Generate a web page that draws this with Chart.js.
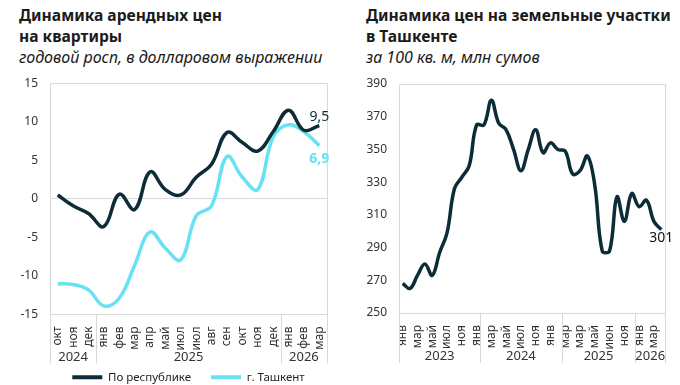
<!DOCTYPE html>
<html>
<head>
<meta charset="utf-8">
<script src="https://cdn.jsdelivr.net/npm/chart.js@4/dist/chart.umd.min.js"></script>
<style>
  body { margin: 0; width: 680px; height: 385px; background: #fff; position: relative; overflow: hidden; font-family: "Noto Sans", sans-serif; }
  .ttl { position: absolute; top: 5px; color: #1b1b1b; font-size: 16px; line-height: 21px; white-space: nowrap; }
  .ttl b { font-weight: 700; font-size: 15.6px; }
  .ttl i { font-style: italic; }
  .box { position: absolute; top: 64px; width: 340px; }
</style>
</head>
<body>
<div class="ttl" style="left:19px"><b>Динамика арендных цен<br>на квартиры</b><br><i>годовой росп, в долларовом выражении</i></div>
<div class="ttl" style="left:366px"><b>Динамика цен на земельные участки<br>в Ташкенте</b><br><i>за 100 кв. м, млн сумов</i></div>
<div class="box" style="left:0;height:329px"><canvas id="rent-chart"></canvas></div>
<div class="box" style="left:340px;height:320px"><canvas id="land-chart"></canvas></div>
<script>
// rent: year-on-year growth, %
const rentMonths = ['окт', 'ноя', 'дек', 'янв', 'фев', 'мар', 'апр', 'май', 'июл', 'июл', 'авг', 'сен', 'окт', 'ноя', 'дек', 'янв', 'фев', 'мар'];
const rentYears = ['2024', '2025', '2026'];
const rentYearStart = [0, 3, 15];
const rentRepublic = [0.5, -0.9, -1.9, -3.6, 0.6, -1.4, 3.5, 1.2, 0.5, 2.8, 4.5, 8.6, 7.3, 6.2, 8.7, 11.5, 8.9, 9.5];
const rentTashkent = [-11.0, -11.1, -11.8, -13.9, -12.9, -8.6, -4.3, -6.4, -7.9, -2.2, -0.9, 5.5, 2.8, 1.2, 8.0, 9.6, 8.7, 6.9];

// land: mln sum per 100 sq m
const landMonths = ['янв', '', 'мар', '', 'май', '', 'июл', '', 'ноя', '', 'янв', '', 'мар', '', 'май', '', 'июл', '', 'ноя', '', 'янв', '', 'мар', '', 'мар', '', 'май', '', 'июн', '', 'ноя', '', 'янв', '', 'мар', ''];
const landYears = ['2023', '2024', '2025', '2026'];
const landYearStart = [0, 11, 22, 32];
const landPrice = [268, 265, 273, 280, 273, 287, 299, 326, 333, 340, 365, 365, 380, 366, 362, 350, 337, 350, 362, 348, 354, 350, 349, 335, 337, 346, 328, 288, 288, 321, 306, 323, 315, 319, 306, 301];

const dark = '#0c2c37';
const cyan = '#66e2f4';
const gridGray = '#d9d9d9';
const font = '"Noto Sans", sans-serif';

// frame, group dividers and year row under the x axis
const yearGroups = {
    id: 'yearGroups',
    beforeDatasetsDraw(chart, args, opts) {
        const {ctx, chartArea: a} = chart;
        const x = chart.scales.x;
        const n = chart.data.labels.length;
        const step = x.getPixelForValue(1) - x.getPixelForValue(0);
        const low = a.bottom + opts.depth;
        const L = Math.round(a.left) + 0.5, R = Math.round(a.right) + 0.5, T = Math.round(a.top) + 0.5;
        ctx.save();
        ctx.strokeStyle = gridGray;
        ctx.lineWidth = 1;
        ctx.beginPath();
        ctx.moveTo(L, T); ctx.lineTo(R, T);
        ctx.moveTo(L, T); ctx.lineTo(L, low);
        ctx.moveTo(R, T); ctx.lineTo(R, low);
        opts.starts.forEach((s, i) => {
            if (i === 0) return;
            const px = Math.round(x.getPixelForValue(s) - step / 2) + 0.5;
            ctx.moveTo(px, a.bottom); ctx.lineTo(px, low);
        });
        ctx.stroke();
        ctx.fillStyle = '#333';
        ctx.font = '13px ' + font;
        ctx.textAlign = 'center';
        ctx.textBaseline = 'middle';
        opts.years.forEach((y, i) => {
            const s = opts.starts[i];
            const e = (i + 1 < opts.starts.length ? opts.starts[i + 1] : n) - 1;
            const l = x.getPixelForValue(s) - step / 2;
            const r = x.getPixelForValue(e) + step / 2;
            ctx.fillText(y, (l + r) / 2, a.bottom + opts.yearY);
        });
        ctx.restore();
    }
};

// value label at the last point of a series
const endLabels = {
    id: 'endLabels',
    afterDatasetsDraw(chart, args, opts) {
        const ctx = chart.ctx;
        ctx.save();
        ctx.textAlign = 'center';
        ctx.textBaseline = 'middle';
        opts.items.forEach(it => {
            const ds = chart.data.datasets[it.ds];
            const pts = chart.getDatasetMeta(it.ds).data;
            const p = pts[pts.length - 1];
            const v = ds.data[ds.data.length - 1];
            ctx.fillStyle = it.color;
            ctx.font = (it.bold ? '700 ' : '') + '14px ' + font;
            ctx.fillText(String(v).replace('.', ','), p.x + it.dx, p.y + it.dy);
        });
        ctx.restore();
    }
};

function xScale(h) {
    return {
        offset: true,
        grid: {display: false},
        border: {display: true, color: gridGray},
        ticks: {autoSkip: false, minRotation: 90, maxRotation: 90, padding: 4, color: '#333', font: {family: font, size: 12}},
        afterFit: s => { s.height = h; }
    };
}

function yScale(min, max, step, zeroLine, width, pad) {
    return {
        min: min, max: max,
        border: {display: false},
        grid: {drawTicks: false, color: c => (zeroLine && c.tick.value === 0) ? gridGray : 'transparent'},
        ticks: {stepSize: step, padding: pad, color: '#333', font: {family: font, size: 12}},
        afterFit: s => { s.width = width; }
    };
}

const rentConfig = {
    type: 'line',
    data: {
        labels: rentMonths,
        datasets: [{
            label: 'По республике',
            data: rentRepublic,
            borderColor: dark,
            backgroundColor: dark,
            borderWidth: 3.5,
            pointRadius: 0,
            tension: 0.4
        }, {
            label: 'г. Ташкент',
            data: rentTashkent,
            borderColor: cyan,
            backgroundColor: cyan,
            borderWidth: 3.5,
            pointRadius: 0,
            tension: 0.4
        }]
    },
    options: {
        responsive: true,
        maintainAspectRatio: false,
        animation: false,
        layout: {padding: {top: 19, right: 13, left: 0, bottom: 0}},
        scales: {
            x: xScale(37),
            y: yScale(-15, 15, 5, true, 50, 12)
        },
        plugins: {
            legend: {
                position: 'bottom',
                fullSize: false,
                labels: {
                    boxWidth: 30, boxHeight: 4, padding: 20, color: '#222',
                    font: {family: font, size: 11.5},
                    generateLabels: chart => Chart.defaults.plugins.legend.labels.generateLabels(chart).map(l => ({...l, lineWidth: 0}))
                }
            },
            tooltip: {enabled: false},
            yearGroups: {years: rentYears, starts: rentYearStart, depth: 49, yearY: 43},
            endLabels: {items: [
                {ds: 0, color: dark, bold: false, dx: 0, dy: -9},
                {ds: 1, color: cyan, bold: true, dx: 0, dy: 13}
            ]}
        }
    },
    plugins: [yearGroups, endLabels]
};

const landConfig = {
    type: 'line',
    data: {
        labels: landMonths,
        datasets: [{
            label: 'Цена',
            data: landPrice,
            borderColor: dark,
            backgroundColor: dark,
            borderWidth: 3.5,
            pointRadius: 0,
            tension: 0.4
        }]
    },
    options: {
        responsive: true,
        maintainAspectRatio: false,
        animation: false,
        layout: {padding: {top: 20, right: 15, left: 0, bottom: 24}},
        scales: {
            x: xScale(47),
            y: yScale(250, 390, 20, false, 59, 12)
        },
        plugins: {
            legend: {display: false},
            tooltip: {enabled: false},
            yearGroups: {years: landYears, starts: landYearStart, depth: 50, yearY: 43},
            endLabels: {items: [
                {ds: 0, color: '#111', bold: false, dx: 0, dy: 8}
            ]}
        }
    },
    plugins: [yearGroups, endLabels]
};

let rentObj = document.getElementById('rent-chart');
let rent = new Chart(rentObj, rentConfig);
let landObj = document.getElementById('land-chart');
let land = new Chart(landObj, landConfig);
</script>
</body>
</html>
